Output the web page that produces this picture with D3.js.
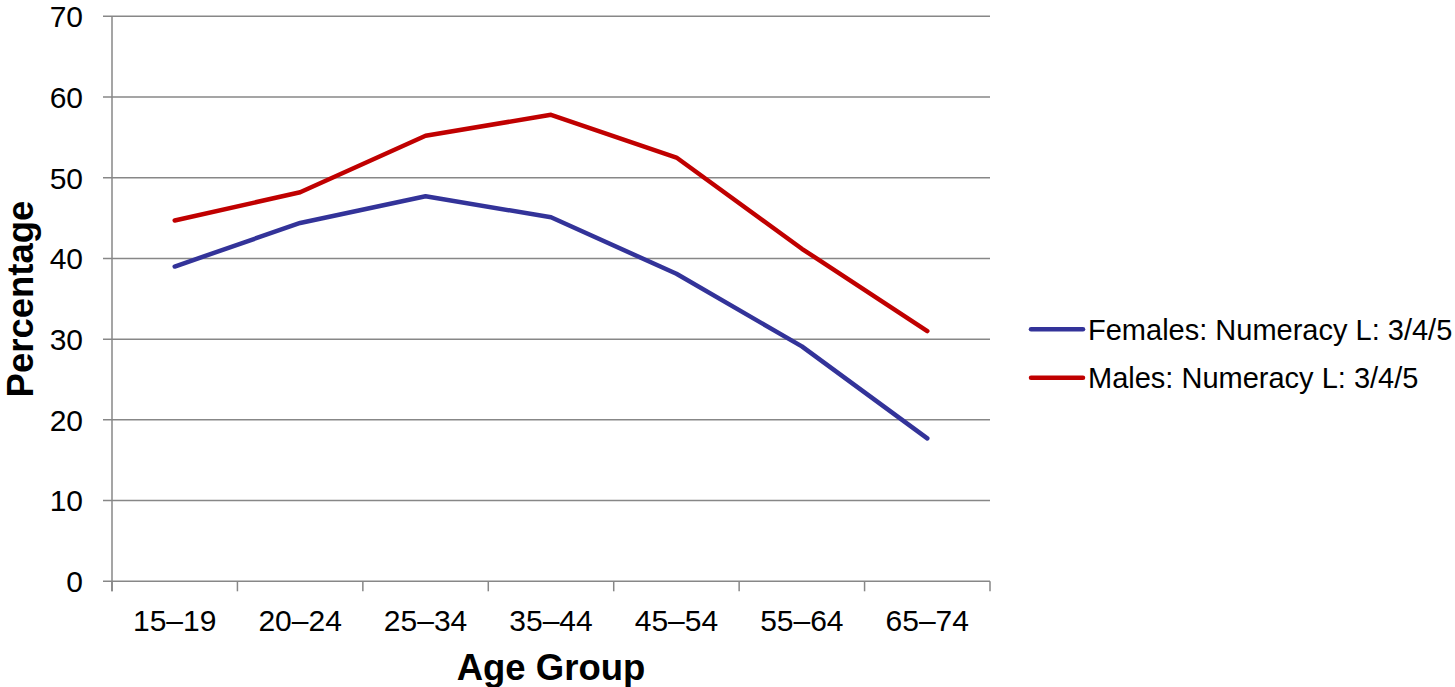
<!DOCTYPE html>
<html><head><meta charset="utf-8">
<script src="https://cdn.jsdelivr.net/npm/d3@7"></script>
<style>body{margin:0;background:#fff;} svg{display:block;font-family:"Liberation Sans",Arial,sans-serif;}</style>
</head><body>
<svg id="c" width="1455" height="687"></svg>
<script>
const categories = ["15–19","20–24","25–34","35–44","45–54","55–64","65–74"];
const females = [39.0, 44.4, 47.7, 45.1, 38.1, 29.1, 17.7];
const males = [44.7, 48.2, 55.2, 57.8, 52.5, 41.2, 31.0];
const yTicks = [0,10,20,30,40,50,60,70];
const seriesNames = ["Females: Numeracy L: 3/4/5","Males: Numeracy L: 3/4/5"];
const seriesColors = ["#333399","#C00000"];

const svg = d3.select("#c");
const L = 112, R = 990, T = 16.3, B = 581.3;
const x = d3.scaleBand().domain(categories).range([L, R]);
const y = d3.scaleLinear().domain([0,70]).range([B, T]);
const grid = "#878787";

svg.append("g").selectAll("line").data(yTicks).join("line")
  .attr("x1", L-9).attr("x2", R).attr("y1", d=>y(d)).attr("y2", d=>y(d))
  .attr("stroke", grid).attr("stroke-width", 1.5);
svg.append("line").attr("x1",L).attr("x2",L).attr("y1",T).attr("y2",B+10).attr("stroke",grid).attr("stroke-width",1.5);
const bounds = categories.map(c=>x(c)).concat([R]);
svg.append("g").selectAll("line").data(bounds).join("line")
  .attr("x1",d=>d).attr("x2",d=>d).attr("y1",B).attr("y2",B+10)
  .attr("stroke",grid).attr("stroke-width",1.5);
svg.append("g").selectAll("text").data(yTicks).join("text")
  .attr("x", 83).attr("y", d=>y(d)).attr("dy","0.36em").attr("text-anchor","end")
  .attr("font-size",30).attr("fill","#000").text(d=>d);
svg.append("g").selectAll("text").data(categories).join("text")
  .attr("x", d=>x(d)+x.bandwidth()/2).attr("y", 631).attr("text-anchor","middle")
  .attr("font-size",30).attr("fill","#000").text(d=>d);
svg.append("text").attr("transform","translate(33,299) rotate(-90)").attr("text-anchor","middle")
  .attr("font-size",36.5).attr("font-weight","bold").text("Percentage");
svg.append("text").attr("x",551).attr("y",680).attr("text-anchor","middle")
  .attr("font-size",36.5).attr("font-weight","bold").text("Age Group");

const line = d3.line().x((d,i)=>x(categories[i])+x.bandwidth()/2).y(d=>y(d));
[females, males].forEach((s,i)=>{
  svg.append("path").attr("d", line(s)).attr("fill","none").attr("stroke",seriesColors[i])
    .attr("stroke-width",4.5).attr("stroke-linecap","round").attr("stroke-linejoin","round");
});
const leg = svg.append("g");
[329.3, 377.7].forEach((ly,i)=>{
  leg.append("line").attr("x1",1031).attr("x2",1083).attr("y1",ly).attr("y2",ly)
    .attr("stroke",seriesColors[i]).attr("stroke-width",4.5).attr("stroke-linecap","round");
  leg.append("text").attr("x",1088).attr("y",ly).attr("dy","0.36em").attr("font-size",29).text(seriesNames[i]);
});
</script>
</body></html>
